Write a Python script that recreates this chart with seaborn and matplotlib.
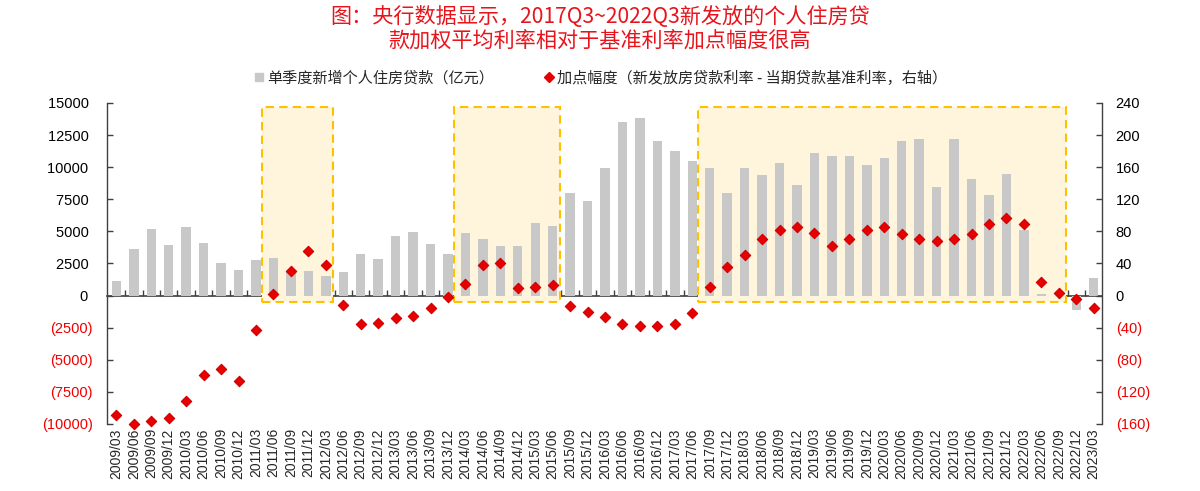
import numpy as np
import pandas as pd
import matplotlib
matplotlib.use("Agg")
import matplotlib.pyplot as plt
import seaborn as sns
from matplotlib.patches import Rectangle
from matplotlib.lines import Line2D

# ---------------- data ----------------
quarters = ["2009/03", "2009/06", "2009/09", "2009/12",
            "2010/03", "2010/06", "2010/09", "2010/12",
            "2011/03", "2011/06", "2011/09", "2011/12",
            "2012/03", "2012/06", "2012/09", "2012/12",
            "2013/03", "2013/06", "2013/09", "2013/12",
            "2014/03", "2014/06", "2014/09", "2014/12",
            "2015/03", "2015/06", "2015/09", "2015/12",
            "2016/03", "2016/06", "2016/09", "2016/12",
            "2017/03", "2017/06", "2017/09", "2017/12",
            "2018/03", "2018/06", "2018/09", "2018/12",
            "2019/03", "2019/06", "2019/09", "2019/12",
            "2020/03", "2020/06", "2020/09", "2020/12",
            "2021/03", "2021/06", "2021/09", "2021/12",
            "2022/03", "2022/06", "2022/09", "2022/12",
            "2023/03"]

# 单季度新增个人住房贷款（亿元）
new_loans = [1100, 3600, 5180, 3960, 5310, 4070, 2570, 1970, 2770, 2900,
             1900, 1920, 1540, 1870, 3240, 2850, 4640, 4950, 4040, 3270,
             4900, 4430, 3860, 3840, 5670, 5440, 7950, 7330, 9970, 13550,
             13830, 12050, 11250, 10470, 9970, 7950, 9900, 9400, 10340, 8650,
             11140, 10860, 10860, 10160, 10750, 12050, 12230, 8450, 12230, 9040,
             7850, 9430, 5130, 160, 0, -1120, 1370]

# 加点幅度（bp，右轴）
spread = [-149, -160, -156, -152, -131, -99, -91, -106, -43, 2,
          31, 56, 38, -12, -36, -34, -28, -26, -16, -2,
          14.5, 38, 41, 9.5, 10.5, 13, -13, -21, -27, -35,
          -38, -38, -35, -22, 11, 36, 51, 70, 82, 85,
          77.5, 62, 70, 82, 85, 77, 70.5, 68.5, 71, 77,
          89, 97, 89, 17, 3, -4, -16]

left_ticks = [15000, 12500, 10000, 7500, 5000, 2500, 0, -2500, -5000, -7500, -10000]
right_ticks = [240, 200, 160, 120, 80, 40, 0, -40, -80, -120, -160]

# highlighted periods (first and last quarter of each box)
highlight_periods = [("2011/06", "2012/03"), ("2014/03", "2015/06"), ("2017/09", "2022/09")]

title_lines = ["图：央行数据显示，2017Q3~2022Q3新发放的个人住房贷",
               "款加权平均利率相对于基准利率加点幅度很高"]
legend_labels = ["单季度新增个人住房贷款（亿元）",
                 "加点幅度（新发放房贷款利率 - 当期贷款基准利率，右轴）"]

# ---------------- style ----------------
sns.set_style("white")
plt.rcParams["font.family"] = ["Liberation Sans", "Noto Sans CJK SC", "DejaVu Sans"]
CJK = ["Noto Sans CJK SC", "DejaVu Sans"]

bar_color = "#C8C8C8"
dot_color = "#E60000"
neg_color = "#F00000"
title_color = "#E8141C"
spine_color = "#404040"
box_fill = "#FFF5DC"
box_edge = "#FFC000"

fig = plt.figure(figsize=(12, 4.91), dpi=100)
ax = fig.add_axes([0.0894, 0.1365, 0.8293, 0.6538])

df = pd.DataFrame({"quarter": quarters, "loans": new_loans, "spread": spread})
df["pos"] = np.arange(len(df))

# highlight boxes (behind bars)
pad_left, pad_right = 0.66, 0.42
for start, end in highlight_periods:
    i0 = quarters.index(start) - pad_left
    i1 = quarters.index(end) + pad_right
    ax.add_patch(Rectangle((i0, -500), i1 - i0, 15200, facecolor=box_fill,
                           edgecolor="none", zorder=0.5))
    ax.add_patch(Rectangle((i0, -500), i1 - i0, 15200, facecolor="none",
                           edgecolor=box_edge, linewidth=1.5,
                           linestyle=(0, (4, 2.5)), zorder=4))

sns.barplot(data=df, x="quarter", y="loans", color=bar_color, saturation=1,
            width=0.54, ax=ax, zorder=2, edgecolor="none")

ax.set_xlim(-0.52, len(quarters) - 0.5)
ax.set_ylim(-10000, 15000)
ax.set_xlabel("")
ax.set_ylabel("")

def fmt(v):
    return f"({abs(v)})" if v < 0 else f"{v} "

ax.set_yticks(left_ticks)
ax.set_yticklabels([fmt(v) for v in left_ticks])
for lab, v in zip(ax.get_yticklabels(), left_ticks):
    lab.set_color(neg_color if v < 0 else "black")
ax.tick_params(axis="y", direction="in", length=4, width=1, color=spine_color,
               labelsize=10.5, pad=10.5, left=True)
ax.tick_params(axis="x", length=0, labelsize=10, pad=3, labelrotation=90)
for sp in ["top", "right", "bottom"]:
    ax.spines[sp].set_visible(False)
ax.spines["left"].set_color(spine_color)
ax.spines["left"].set_linewidth(1)

# zero axis with small ticks between categories (pointing up)
zero_frac = (0 - (-10000)) / (15000 - (-10000))
sec = ax.secondary_xaxis(zero_frac)
sec.set_alignment("bottom")
sec.set_xticks(df["pos"].values[:-1] + 0.5)
sec.set_xticklabels([])
sec.tick_params(axis="x", which="both", direction="in", length=4, width=1,
                color=spine_color, bottom=True, top=False)
sec.spines["bottom"].set_color(spine_color)
sec.spines["bottom"].set_linewidth(1.2)

# right axis: spread
ax2 = ax.twinx()
sns.scatterplot(data=df, x="pos", y="spread", marker="D", s=28, color=dot_color,
                edgecolor="#D00000", linewidth=0.8, ax=ax2, zorder=5, legend=False,
                clip_on=False)
ax2.set_ylim(-160, 240)
ax2.set_xlim(-0.52, len(quarters) - 0.5)
ax2.set_ylabel("")
ax2.set_xlabel("")
ax2.set_yticks(right_ticks)
ax2.set_yticklabels([f"({abs(v)})" if v < 0 else f"{v}" for v in right_ticks])
for lab, v in zip(ax2.get_yticklabels(), right_ticks):
    lab.set_color(neg_color if v < 0 else "black")
ax2.tick_params(axis="y", direction="in", length=4, width=1, color=spine_color,
                labelsize=10.5, pad=9.5, right=True)
for sp in ["top", "left", "bottom"]:
    ax2.spines[sp].set_visible(False)
ax2.spines["right"].set_color(spine_color)
ax2.spines["right"].set_linewidth(1)
ax2.grid(False)
ax.grid(False)

# title
fig.text(0.5, 1 - 17 / 491, title_lines[0], ha="center", va="center",
         fontsize=15.2, color=title_color, family=CJK)
fig.text(0.5, 1 - 41 / 491, title_lines[1], ha="center", va="center",
         fontsize=15.2, color=title_color, family=CJK)

# legend
handles = [Line2D([], [], linestyle="none", marker="s", markersize=5.5,
                  markerfacecolor=bar_color, markeredgecolor=bar_color),
           Line2D([], [], linestyle="none", marker="D", markersize=5.2,
                  markerfacecolor=dot_color, markeredgecolor=dot_color)]
fig.legend(handles, legend_labels, loc="center", bbox_to_anchor=(0.5, 1 - 78 / 491),
           ncol=2, frameon=False, handlelength=0.8, handletextpad=0.15,
           columnspacing=3.2, prop={"family": CJK, "size": 10.9})

fig.savefig("out.png", dpi=100)
